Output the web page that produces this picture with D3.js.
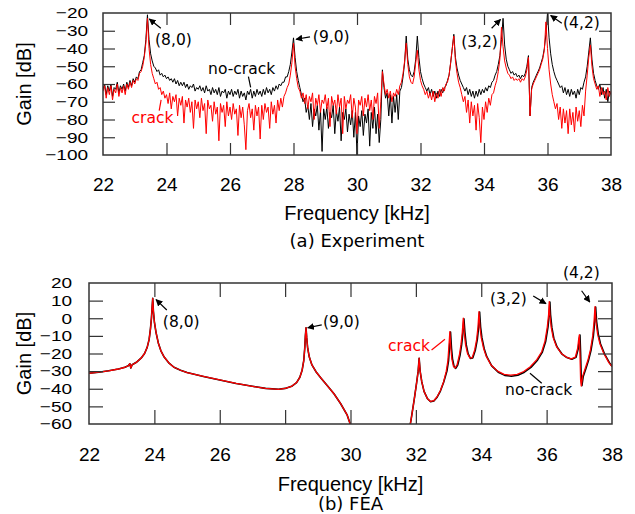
<!DOCTYPE html>
<html>
<head>
<meta charset="utf-8">
<script src="https://cdn.jsdelivr.net/npm/d3@7"></script>
<style>
  body { margin: 0; background: #fff; }
</style>
</head>
<body>
<script>
// ---- data ----
// experiment: gain [dB] sampled every 0.05 kHz from 22 to 38 kHz
const freqStart = 22, freqStep = 0.05;

const expNoCrack = [
  -63,-60,-66,-61,-64,-60,-67,-62,-63,-59,-65,-61,-63,-60,-64,-59,-62,-58,-61,-57,
  -59,-56,-57,-53,-52,-48,-44,-35,-21,-35,-43,-47,-50,-51,-53,-52,-55,-54,-56,-55,
  -57,-56,-58,-57,-59,-57,-60,-58,-61,-59,-61,-59,-62,-60,-63,-61,-62,-60,-64,-62,
  -63,-61,-64,-62,-65,-61,-64,-63,-66,-62,-65,-63,-66,-62,-67,-64,-65,-63,-68,-64,
  -66,-63,-67,-64,-66,-63,-68,-64,-67,-65,-69,-64,-66,-63,-68,-64,-67,-63,-66,-64,
  -67,-63,-66,-62,-65,-63,-66,-62,-64,-61,-63,-60,-61,-59,-59,-56,-56,-53,-49,-42,
  -34,-45,-53,-58,-62,-66,-70,-68,-76,-72,-80,-71,-84,-74,-78,-72,-86,-75,-98,-74,
  -80,-73,-85,-76,-79,-72,-88,-75,-81,-73,-92,-76,-80,-74,-87,-77,-83,-75,-90,-76,
  -100,-78,-84,-75,-89,-77,-82,-74,-95,-76,-85,-73,-88,-77,-93,-80,-52,-62,-68,-65,
  -78,-66,-82,-67,-76,-66,-80,-64,-62,-56,-48,-33,-46,-52,-55,-56,-53,-46,-33,-45,
  -53,-57,-60,-62,-64,-62,-66,-63,-67,-64,-68,-64,-67,-63,-65,-62,-61,-58,-55,-48,
  -40,-32,-45,-51,-55,-58,-60,-62,-64,-62,-66,-63,-67,-64,-68,-64,-67,-63,-66,-63,
  -65,-62,-64,-61,-62,-59,-58,-55,-53,-49,-44,-35,-23,-38,-46,-50,-52,-54,-53,-55,
  -54,-56,-55,-57,-55,-56,-54,-50,-44,-78,-62,-59,-57,-55,-53,-51,-48,-45,-40,-32,
  -20,-34,-43,-49,-53,-56,-58,-60,-62,-61,-65,-62,-66,-63,-67,-63,-66,-64,-68,-63,
  -66,-62,-63,-59,-56,-50,-42,-34,-46,-54,-58,-61,-63,-60,-66,-62,-68,-63,-70,-64,
  -66
];

const expCrack = [
  -64,-61,-68,-62,-66,-61,-69,-63,-65,-60,-67,-62,-65,-61,-66,-60,-63,-59,-62,-58,
  -60,-57,-58,-54,-53,-50,-45,-37,-23,-40,-49,-54,-57,-60,-59,-63,-62,-66,-64,-68,
  -66,-71,-65,-74,-67,-70,-66,-78,-68,-72,-67,-82,-69,-73,-68,-76,-70,-85,-69,-74,
  -70,-79,-68,-75,-71,-88,-69,-74,-72,-81,-70,-77,-73,-92,-71,-76,-72,-84,-70,-78,
  -73,-80,-71,-77,-74,-89,-72,-79,-73,-83,-97,-75,-71,-79,-74,-86,-72,-78,-73,-91,
  -72,-80,-71,-76,-73,-85,-70,-77,-72,-82,-69,-75,-68,-73,-67,-65,-62,-60,-55,-48,
  -37,-50,-57,-62,-64,-68,-65,-71,-66,-74,-67,-70,-65,-80,-68,-72,-66,-76,-69,-71,
  -66,-74,-68,-84,-67,-72,-69,-77,-66,-73,-68,-88,-67,-74,-69,-71,-66,-79,-68,-73,
  -88,-69,-72,-67,-78,-68,-73,-66,-75,-69,-80,-67,-71,-65,-85,-70,-53,-60,-66,-63,
  -68,-64,-70,-65,-67,-63,-66,-61,-59,-54,-47,-37,-49,-56,-59,-60,-56,-48,-41,-52,
  -58,-61,-63,-66,-64,-68,-65,-69,-64,-70,-65,-68,-63,-67,-62,-64,-60,-59,-55,-48,
  -40,-33,-47,-54,-59,-62,-66,-70,-67,-76,-69,-82,-70,-78,-72,-86,-71,-79,-93,-73,
  -80,-70,-76,-68,-72,-66,-65,-61,-58,-53,-46,-28,-39,-47,-51,-54,-55,-57,-56,-58,
  -57,-58,-57,-59,-57,-58,-56,-52,-45,-78,-63,-60,-58,-56,-54,-52,-49,-46,-41,-25,
  -40,-52,-60,-66,-70,-74,-71,-80,-73,-85,-74,-82,-75,-88,-74,-83,-76,-87,-73,-81,
  -75,-84,-72,-78,-64,-55,-45,-38,-50,-57,-60,-63,-61,-67,-62,-66,-64,-69,-62,-67,
  -64
];

// FEA: [frequency kHz, gain dB]
const feaCrack = [
  [22.0,-31.2],[22.3,-30.6],[22.6,-29.8],[22.9,-28.8],[23.1,-27.8],[23.2,-27.0],[23.25,-25.8],
  [23.28,-28.2],[23.32,-26.4],[23.45,-25],[23.6,-22.5],[23.7,-20],[23.78,-16.5],[23.84,-12],
  [23.88,-6],[23.91,0],[23.93,6],[23.95,11.3],[23.97,4],[24.0,-2],[24.05,-8],[24.12,-14],
  [24.2,-18.5],[24.3,-22],[24.45,-25.5],[24.6,-27.8],[24.8,-29.5],[25.0,-30.8],[25.5,-33],
  [26,-35],[26.5,-37],[27,-38.6],[27.4,-39.8],[27.8,-40.3],[28.0,-39.8],[28.2,-38.6],
  [28.35,-36.5],[28.45,-33.5],[28.52,-29.5],[28.57,-24],[28.6,-17],[28.62,-10],[28.64,-5.4],
  [28.66,-11],[28.69,-17],[28.74,-22],[28.82,-26.5],[28.95,-30.5],[29.1,-34],[29.3,-38.5],
  [29.5,-43],[29.7,-48.5],[29.9,-55],[30.0,-60.5],[30.1,-64],
  [31.75,-68],[31.85,-58],[31.95,-46],[32.02,-37],[32.07,-30],[32.1,-22.7],[32.13,-30],
  [32.18,-36],[32.25,-41.5],[32.35,-45.5],[32.45,-47.2],[32.55,-46.8],[32.65,-44.5],
  [32.75,-41],[32.85,-36],[32.93,-30],[32.98,-24],[33.01,-16],[33.04,-7.6],[33.07,-17],
  [33.1,-23],[33.15,-27.3],[33.2,-28.2],[33.26,-26.5],[33.33,-21],[33.38,-15],[33.42,-8],
  [33.45,0],[33.48,-8],[33.52,-15],[33.58,-20],[33.65,-22.5],[33.72,-22.5],[33.8,-18],
  [33.86,-12],[33.9,-5],[33.93,3.7],[33.96,-5],[34.0,-11],[34.07,-17],[34.15,-21.5],
  [34.3,-26.5],[34.5,-30],[34.7,-31.8],[34.9,-32.3],[35.1,-31.8],[35.3,-30.2],[35.5,-27.5],
  [35.7,-23.5],[35.85,-19],[35.95,-13],[36.02,-5],[36.06,2],[36.08,9.4],[36.1,2],[36.14,-5],
  [36.2,-11],[36.3,-16],[36.45,-20],[36.6,-22],[36.75,-23],[36.88,-22],[36.95,-17],
  [36.98,-12],[37.0,-9.5],[37.02,-20],[37.04,-35],[37.06,-38.4],[37.1,-33],[37.18,-28.5],
  [37.26,-24],[37.34,-18],[37.41,-10],[37.45,-2],[37.48,6.6],[37.51,-2],[37.56,-9],
  [37.63,-14.5],[37.75,-20],[37.9,-25],[38.0,-27.5]
];

const feaNoCrack = [
  [22.0,-31.2],[22.3,-30.6],[22.6,-29.8],[22.9,-28.8],[23.1,-27.8],[23.2,-27.0],[23.25,-25.8],
  [23.28,-28.2],[23.32,-26.4],[23.45,-25],[23.6,-22.5],[23.7,-20],[23.78,-16.5],[23.84,-12],
  [23.88,-6],[23.91,0],[23.93,6],[23.95,11.3],[23.97,4],[24.0,-2],[24.05,-8],[24.12,-14],
  [24.2,-18.5],[24.3,-22],[24.45,-25.5],[24.6,-27.8],[24.8,-29.5],[25.0,-30.8],[25.5,-33],
  [26,-35],[26.5,-37],[27,-38.6],[27.4,-39.8],[27.8,-40.3],[28.0,-39.8],[28.2,-38.6],
  [28.35,-36.5],[28.45,-33.5],[28.52,-29.5],[28.57,-24],[28.6,-17],[28.62,-10],[28.64,-5.4],
  [28.66,-11],[28.69,-17],[28.74,-22],[28.82,-26.5],[28.95,-30.5],[29.1,-34],[29.3,-38.5],
  [29.5,-43],[29.7,-48.5],[29.9,-55],[30.0,-60.5],[30.1,-64],
  [31.75,-68],[31.85,-58],[31.95,-46],[32.02,-37],[32.07,-30],[32.1,-22.7],[32.13,-30],
  [32.18,-36],[32.25,-41.5],[32.35,-45.5],[32.45,-47.4],[32.55,-47.0],[32.65,-44.8],
  [32.75,-41.3],[32.85,-36.3],[32.95,-30],[33.0,-24],[33.03,-16],[33.06,-7.8],[33.09,-17],
  [33.12,-23],[33.17,-27.5],[33.22,-28.4],[33.28,-26.6],[33.35,-21],[33.4,-15],[33.44,-8],
  [33.47,-0.3],[33.5,-8],[33.54,-15],[33.6,-20.2],[33.67,-22.8],[33.74,-22.6],[33.82,-18],
  [33.88,-12],[33.92,-5],[33.95,3.5],[33.98,-5],[34.02,-11],[34.09,-17.3],[34.17,-21.8],
  [34.32,-27],[34.52,-30.6],[34.72,-32.4],[34.92,-32.9],[35.12,-32.3],[35.32,-30.6],
  [35.52,-27.9],[35.72,-23.8],[35.87,-19.2],[35.97,-13.2],[36.04,-5.2],[36.08,2],[36.1,9.2],
  [36.12,2],[36.16,-5.2],[36.22,-11.3],[36.32,-16.3],[36.47,-20.3],[36.62,-22.3],
  [36.77,-23.3],[36.9,-22.2],[36.97,-17],[37.0,-12],[37.02,-9.5],[37.04,-20],[37.06,-35],
  [37.08,-38.2],[37.12,-33],[37.2,-28.6],[37.28,-24],[37.36,-18],[37.43,-10],[37.47,-2],
  [37.5,6.4],[37.53,-2],[37.58,-9],[37.65,-14.6],[37.77,-20.2],[37.92,-25.2],[38.0,-27.2]
];

const xTicks = [22, 24, 26, 28, 30, 32, 34, 36, 38];
const expYTicks = [-20, -30, -40, -50, -60, -70, -80, -90, -100];
const feaYTicks = [20, 10, 0, -10, -20, -30, -40, -50, -60];

// annotations in data coordinates: label, text anchor, arrow from -> to
const expNotes = [
  {t: "(8,0)", at: [23.64, -35.2], from: [23.82, -28.6], to: [23.46, -23.4], arrow: true},
  {t: "(9,0)", at: [28.61, -33.7], from: [28.52, -33.4], to: [28.08, -34.8], arrow: true},
  {t: "(3,2)", at: [33.28, -36.2], from: [34.24, -28.6], to: [34.52, -23.6], arrow: true},
  {t: "(4,2)", at: [36.49, -25.8], from: [36.45, -25.8], to: [36.1, -21.4], arrow: true},
  {t: "no-crack", at: [25.31, -51.7], from: [26.58, -55.9], to: [26.65, -61.9]},
  {t: "crack", at: [22.9, -79.3], from: [23.83, -69], to: [23.77, -75], red: true}
];
const feaNotes = [
  {t: "(8,0)", at: [24.26, -2], from: [24.38, 4.7], to: [24.05, 10.6], arrow: true},
  {t: "(9,0)", at: [29.16, -2], from: [29.12, -3.8], to: [28.69, -5.4], arrow: true},
  {t: "(3,2)", at: [34.27, 10.8], from: [35.59, 12.6], to: [35.98, 8.3], arrow: true},
  {t: "(4,2)", at: [36.5, 25.8], from: [37.07, 15.6], to: [37.32, 9.2], arrow: true},
  {t: "crack", at: [31.15, -15.7], from: [32.48, -18], to: [32.89, -11.9], red: true},
  {t: "no-crack", at: [34.73, -40.7], from: [35.49, -31.2], to: [35.85, -36.9]}
];

// ---- drawing ----
const width = 635, height = 514;
const svg = d3.select("body").append("svg")
    .attr("width", width)
    .attr("height", height);

const defs = svg.append("defs");
defs.append("marker")
    .attr("id", "arrowhead")
    .attr("viewBox", "0 0 10 10")
    .attr("refX", 9).attr("refY", 5)
    .attr("markerWidth", 7).attr("markerHeight", 7)
    .attr("markerUnits", "userSpaceOnUse")
    .attr("orient", "auto")
    .append("path")
    .attr("d", "M0,0 L10,5 L0,10 z")
    .attr("fill", "#000");

const axisFont = "'Liberation Sans', Arial, sans-serif";
const noteFont = "'DejaVu Sans', Verdana, sans-serif";

function drawPanel(p) {
    const x = d3.scaleLinear().domain([22, 38]).range([p.left, p.right]);
    const y = d3.scaleLinear().domain([p.yTicks[p.yTicks.length - 1], p.yTicks[0]]).range([p.bottom, p.top]);
    const g = svg.append("g");

    defs.append("clipPath").attr("id", p.id + "-clip")
        .append("rect")
        .attr("x", p.left).attr("y", p.top)
        .attr("width", p.right - p.left).attr("height", p.bottom - p.top);

    const line = d3.line().x(d => x(d[0])).y(d => y(d[1]));
    const plot = g.append("g").attr("clip-path", `url(#${p.id}-clip)`);
    p.series.forEach(s => {
        plot.append("path")
            .datum(s.data)
            .attr("fill", "none")
            .attr("stroke", s.color)
            .attr("stroke-width", s.width)
            .attr("stroke-linejoin", "round")
            .attr("d", line);
    });

    // inward ticks on all four sides
    const innerX = xTicks.slice(1, -1);
    const innerY = p.yTicks.slice(1, -1);
    const tickStyle = sel => {
        sel.select(".domain").remove();
        sel.selectAll("line").attr("stroke", "#333").attr("stroke-width", 1.2);
    };
    g.append("g").attr("transform", `translate(0,${p.bottom})`)
        .call(d3.axisBottom(x).tickValues(innerX).tickSize(-p.tick).tickFormat(""))
        .call(tickStyle);
    g.append("g").attr("transform", `translate(0,${p.top})`)
        .call(d3.axisTop(x).tickValues(innerX).tickSize(-p.tick).tickFormat(""))
        .call(tickStyle);
    g.append("g").attr("transform", `translate(${p.left},0)`)
        .call(d3.axisLeft(y).tickValues(innerY).tickSize(-p.tick).tickFormat(""))
        .call(tickStyle);
    g.append("g").attr("transform", `translate(${p.right},0)`)
        .call(d3.axisRight(y).tickValues(innerY).tickSize(-p.tick).tickFormat(""))
        .call(tickStyle);

    g.append("rect")
        .attr("x", p.left).attr("y", p.top)
        .attr("width", p.right - p.left).attr("height", p.bottom - p.top)
        .attr("fill", "none").attr("stroke", "#333").attr("stroke-width", 1.5);

    // tick labels
    const xl = g.append("g").attr("transform", `translate(0,${p.bottom})`)
        .call(d3.axisBottom(x).tickValues(xTicks).tickSize(0).tickPadding(p.xPad).tickFormat(d3.format("d")));
    xl.select(".domain").remove();
    xl.selectAll("text").attr("font-family", axisFont).attr("font-size", 19).attr("fill", "#000");

    const yl = g.append("g").attr("transform", `translate(${p.left},0)`)
        .call(d3.axisLeft(y).tickValues(p.yTicks).tickSize(0).tickPadding(p.yPad).tickFormat(d3.format("d")));
    yl.select(".domain").remove();
    yl.selectAll("text")
        .attr("font-family", axisFont).attr("font-size", 19).attr("fill", "#000")
        .attr("transform", "scale(1,0.8)");

    // axis titles
    g.append("text")
        .attr("transform", `translate(24,${(p.top + p.bottom) / 2}) rotate(-90)`)
        .attr("text-anchor", "middle").attr("dominant-baseline", "central")
        .attr("font-family", axisFont).attr("font-size", 20)
        .text("Gain [dB]");
    g.append("text")
        .attr("x", (p.left + p.right) / 2).attr("y", p.xTitleY)
        .attr("text-anchor", "middle")
        .attr("font-family", axisFont).attr("font-size", 20)
        .text("Frequency [kHz]");
    g.append("text")
        .attr("x", (p.left + p.right) / 2).attr("y", p.captionY)
        .attr("text-anchor", "middle")
        .attr("font-family", noteFont).attr("font-size", 18)
        .text(p.caption);

    // annotations
    p.notes.forEach(n => {
        const c = n.red ? "#ff0000" : "#000";
        g.append("line")
            .attr("x1", x(n.from[0])).attr("y1", y(n.from[1]))
            .attr("x2", x(n.to[0])).attr("y2", y(n.to[1]))
            .attr("stroke", c).attr("stroke-width", 1.2)
            .attr("marker-end", n.arrow ? "url(#arrowhead)" : null);
        g.append("text")
            .attr("x", x(n.at[0])).attr("y", y(n.at[1]))
            .attr("dominant-baseline", "central")
            .attr("font-family", noteFont).attr("font-size", 15.5)
            .attr("fill", c)
            .text(n.t);
    });
}

const toPoints = arr => arr.map((v, i) => [freqStart + i * freqStep, v]);

drawPanel({
    id: "exp", left: 103, right: 611, top: 13, bottom: 155,
    yTicks: expYTicks, tick: 12, xPad: 23, yPad: 15,
    xTitleY: 220, captionY: 247, caption: "(a) Experiment",
    series: [
        {data: toPoints(expNoCrack), color: "#000", width: 1},
        {data: toPoints(expCrack), color: "#ff0000", width: 1}
    ],
    notes: expNotes
});

drawPanel({
    id: "fea", left: 89, right: 612, top: 283, bottom: 424,
    yTicks: feaYTicks, tick: 14, xPad: 24, yPad: 17,
    xTitleY: 491, captionY: 510, caption: "(b) FEA",
    series: [
        {data: feaNoCrack, color: "#000", width: 1.6},
        {data: feaCrack, color: "#ff0000", width: 1.3}
    ],
    notes: feaNotes
});
</script>
</body>
</html>
